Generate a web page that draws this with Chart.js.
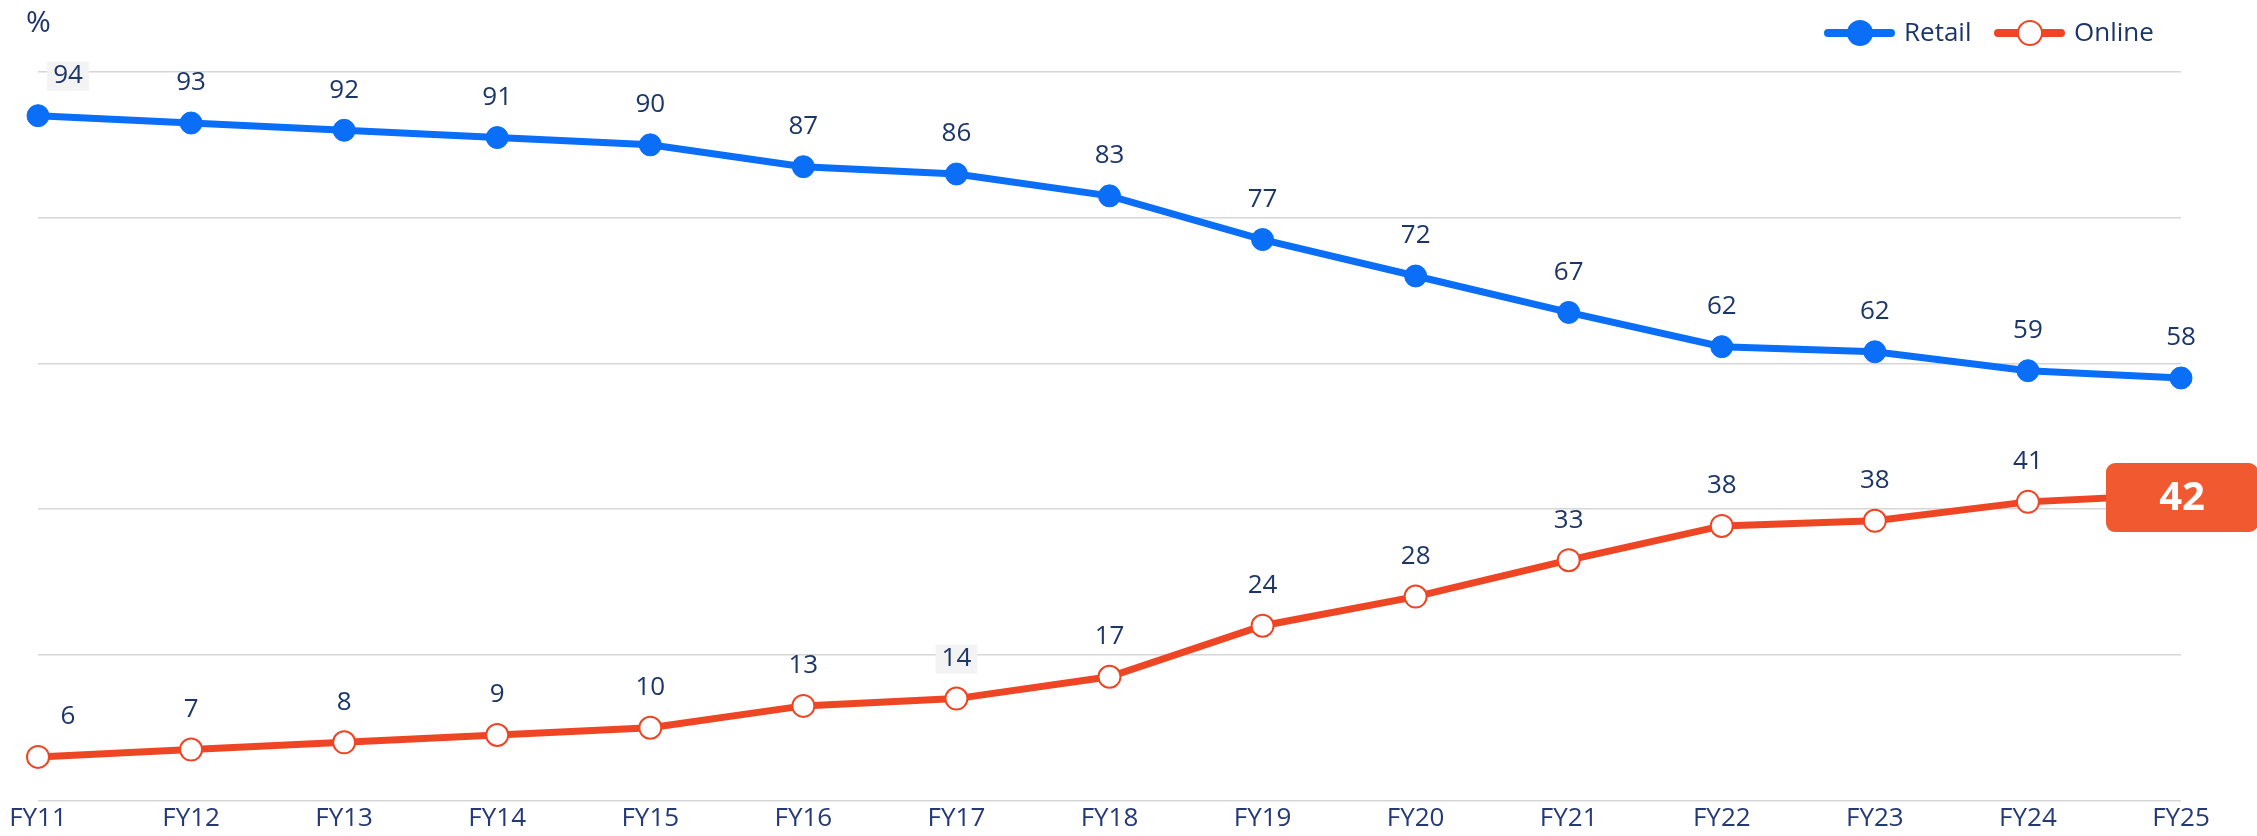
<!DOCTYPE html>
<html>
<head>
<meta charset="utf-8">
<script src="https://cdn.jsdelivr.net/npm/chart.js@4/dist/chart.umd.min.js"></script>
<style>
  html, body { margin: 0; padding: 0; background: #fff; }
  #wrap { width: 2257px; height: 836px; position: relative; }
</style>
</head>
<body>
<div id="wrap"><canvas id="shareChart"></canvas></div>
<script>
const years = ["FY11","FY12","FY13","FY14","FY15","FY16","FY17","FY18","FY19","FY20","FY21","FY22","FY23","FY24","FY25"];
const retail = [94, 93, 92, 91, 90, 87, 86, 83, 77, 72, 67, 62.3, 61.6, 59, 58];
const online = [6, 7, 8, 9, 10, 13, 14, 17, 24, 28, 33, 37.7, 38.4, 41, 42];
const yTicks = [0, 20, 40, 60, 80, 100];

const blue = "#0a6ef7";
const orange = "#ee4624";
const badgeColor = "#f15a30";
const navy = "#1d3668";
const font = "'Open Sans', 'Noto Sans', sans-serif";

// labels that have a faint grey box behind them in the original
const shaded = [[0, 0], [1, 6]];

const labelsPlugin = {
    id: "labels",
    afterDatasetsDraw(chart) {
        const c = chart.ctx;
        c.save();
        c.font = "26px " + font;
        c.textAlign = "center";
        c.textBaseline = "middle";
        chart.data.datasets.forEach((ds, di) => {
            const meta = chart.getDatasetMeta(di);
            meta.data.forEach((pt, i) => {
                if (di == 1 && i == ds.data.length - 1) return;
                const txt = String(Math.round(ds.data[i]));
                const y = pt.y - 40;
                if (shaded.some(s => s[0] == di && s[1] == i)) {
                    const w = c.measureText(txt).width + 12;
                    c.fillStyle = "#f3f3f4";
                    c.fillRect(pt.x - w / 2 + (i == 0 ? 30 : 0), y - 14, w, 29);
                }
                c.fillStyle = navy;
                c.fillText(txt, pt.x + (i == 0 ? 30 : 0), y);
            });
        });

        // badge on the last online value
        const meta = chart.getDatasetMeta(1);
        const last = meta.data[meta.data.length - 1];
        const w = 152, h = 69;
        c.fillStyle = badgeColor;
        c.beginPath();
        c.roundRect(last.x - 75, last.y - h / 2 + 3, w, h, 9);
        c.fill();
        c.fillStyle = "#fff";
        c.font = "bold 40px " + font;
        c.fillText(String(online[online.length - 1]), last.x + 1, last.y + 4);

        // unit
        c.fillStyle = navy;
        c.font = "30px " + font;
        c.textAlign = "left";
        c.fillText("%", 26, 23);

        // legend
        const items = [
            { x: 1828, label: "Retail", color: blue, fill: blue },
            { x: 1998, label: "Online", color: orange, fill: "#fff" }
        ];
        items.forEach(it => {
            c.strokeStyle = it.color;
            c.lineWidth = 8;
            c.lineCap = "round";
            c.beginPath();
            c.moveTo(it.x, 33);
            c.lineTo(it.x + 63, 33);
            c.stroke();
            c.beginPath();
            c.arc(it.x + 32, 33, 12, 0, Math.PI * 2);
            c.fillStyle = it.fill;
            c.fill();
            c.lineWidth = 2;
            c.strokeStyle = it.color;
            c.stroke();
            c.fillStyle = navy;
            c.font = "26px " + font;
            c.fillText(it.label, it.x + 76, 34);
        });
        c.restore();
    }
};

new Chart(document.getElementById("shareChart"), {
    type: "line",
    data: {
        labels: years,
        datasets: [{
            label: "Retail",
            data: retail,
            borderColor: blue,
            backgroundColor: blue,
            borderWidth: 7,
            pointRadius: 11,
            pointBorderWidth: 1,
            pointBackgroundColor: blue,
            pointBorderColor: blue,
            tension: 0
        }, {
            label: "Online",
            data: online,
            borderColor: orange,
            backgroundColor: "#fff",
            borderWidth: 7,
            pointRadius: 11,
            pointBorderWidth: 2,
            pointBackgroundColor: "#fff",
            pointBorderColor: orange,
            tension: 0
        }]
    },
    options: {
        responsive: true,
        maintainAspectRatio: false,
        animation: false,
        layout: { padding: { left: 38, right: 76, top: 72, bottom: 0 } },
        plugins: {
            legend: { display: false },
            tooltip: { enabled: false }
        },
        scales: {
            x: {
                offset: false,
                grid: { display: false, drawTicks: false },
                border: { display: false },
                ticks: {
                    color: "#253a74",
                    font: { family: font, size: 26, lineHeight: 0.9 },
                    padding: 6,
                    maxRotation: 0,
                    autoSkip: false
                }
            },
            y: {
                min: yTicks[0],
                max: yTicks[yTicks.length - 1],
                afterBuildTicks: (axis) => { axis.ticks = yTicks.map(v => ({ value: v })); },
                ticks: { display: false },
                grid: { color: "#d6d6d6", lineWidth: 1.5, drawTicks: false },
                border: { display: false }
            }
        }
    },
    plugins: [labelsPlugin]
});
</script>
</body>
</html>
